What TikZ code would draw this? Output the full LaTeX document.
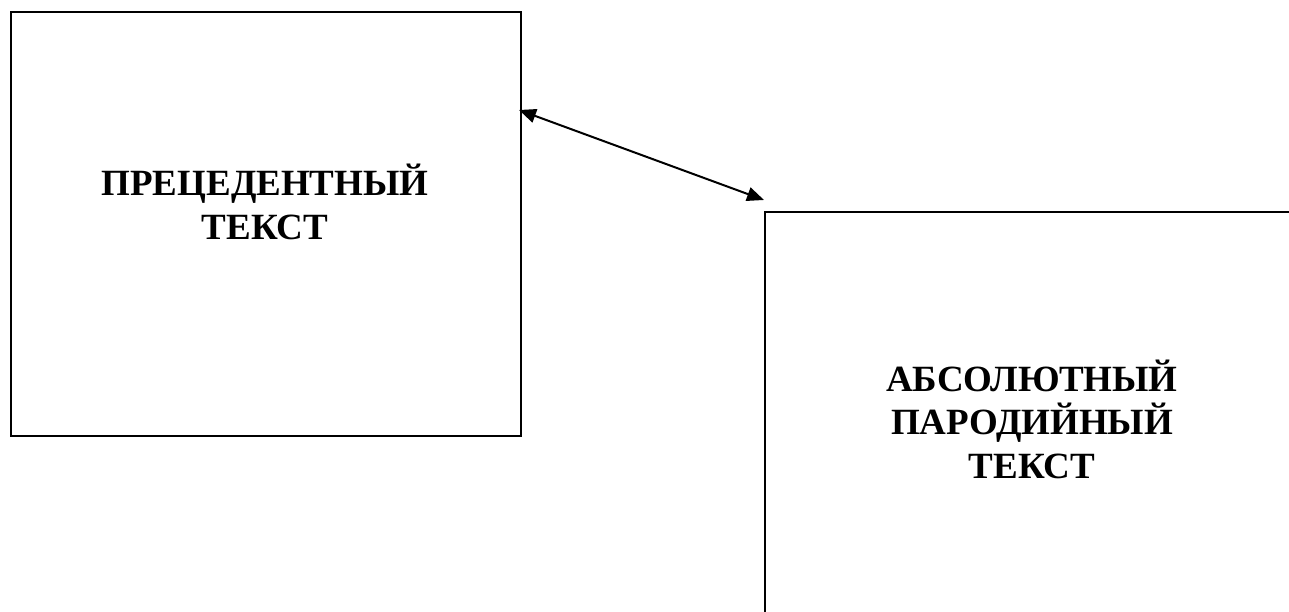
\documentclass[tikz,border=0pt]{standalone}
\usepackage{fontspec}
\setmainfont{Liberation Serif}
\usetikzlibrary{arrows.meta,calc}
\begin{document}
\begin{tikzpicture}[x=1pt,y=-1pt,
  boxframe/.style={draw=black,line width=2pt,inner sep=0pt},
  boxlabel/.style={align=center,inner sep=0pt,font=\fontsize{37}{43.5}\selectfont\bfseries},
  link/.style={line width=2pt,{Triangle[length=17pt,width=14pt]}-{Triangle[length=17pt,width=14pt]}}]
\useasboundingbox[fill=white] (0,0) rectangle (1289,612);
\node[boxframe,minimum width=510pt,minimum height=424pt] (a) at (266,224) {};
\node[boxframe,minimum width=560pt,minimum height=440pt,anchor=north west] (b) at (764,211) {};
\node[boxlabel] (ta) at (265,202) {ПРЕЦЕДЕНТНЫЙ\\ТЕКСТ};
\node[boxlabel] (tb) at (1032,419) {АБСОЛЮТНЫЙ\\ПАРОДИЙНЫЙ\\ТЕКСТ};
\coordinate (s) at ($(a.north east)+(-3,99)$);
\coordinate (e) at ($(b.north west)+(0,-11)$);
\draw[link] (s) -- (e);
\end{tikzpicture}
\end{document}
